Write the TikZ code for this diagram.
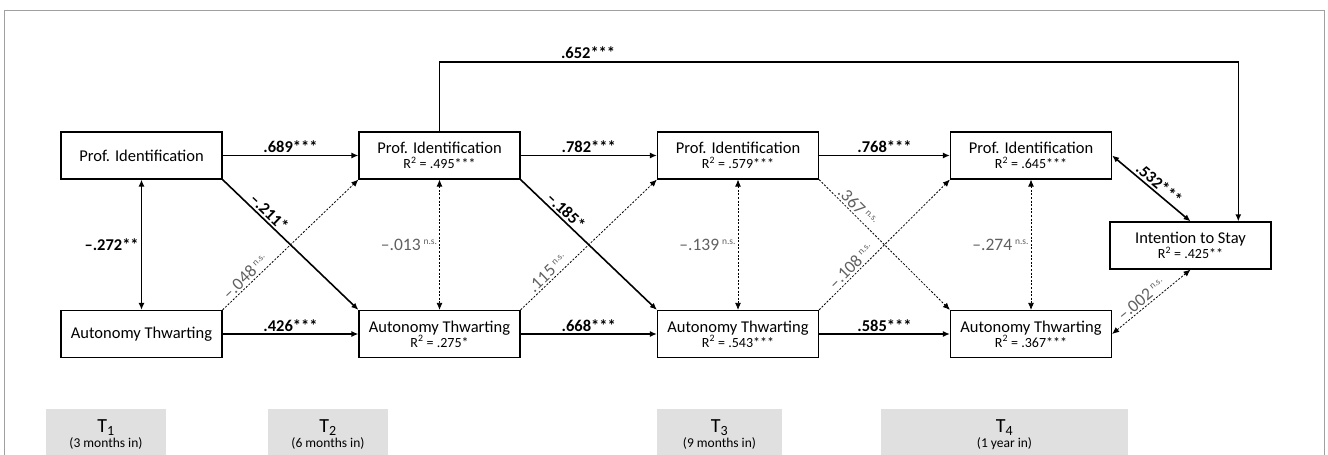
\documentclass[tikz,border=0pt]{standalone}
\usepackage{fontspec}
\setmainfont{Carlito}
\usetikzlibrary{arrows.meta}
\definecolor{lblgray}{RGB}{96,96,96}
\definecolor{framegray}{RGB}{160,160,160}
\definecolor{timefill}{RGB}{224,224,224}
\newcommand{\nsmark}{\raisebox{6pt}{\fontsize{9.5}{9.5}\selectfont n.s.}}
\newcommand{\rsq}[1]{{\fontsize{14}{15}\selectfont R\textsuperscript{2} = #1}}
\begin{document}
\begin{tikzpicture}[x=1pt,y=-1pt,
  >={Latex[length=7pt,width=6pt]},
  box/.style={draw, line width=1.2pt, minimum width=161pt, minimum height=47pt, inner sep=0pt, align=center, font=\fontsize{16.5}{17}\selectfont},
  solidarr/.style={line width=1.6pt, ->},
  dotarr/.style={line width=0.8pt, dash pattern=on 2pt off 1.6pt, ->},
  sig/.style={font=\fontsize{16.5}{17}\selectfont\bfseries, inner sep=2pt},
  nsl/.style={font=\fontsize{17.5}{18}\selectfont, text=lblgray, inner sep=2pt},
  timebox/.style={fill=timefill, minimum height=50pt, inner sep=0pt, align=center, anchor=north},
]
\useasboundingbox (0,0) rectangle (1328,455);
% frame
\draw[framegray, line width=1pt] (4,460) -- (4,10) -- (1324,10) -- (1324,460);

% boxes
\node[box] (p1) at (141.5,155.5) {Prof. Identification};
\node[box] (a1) at (141.5,334) {Autonomy Thwarting};
\node[box] (p2) at (439.5,155.5) {Prof. Identification\\[-2pt]\rsq{.495***}};
\node[box] (a2) at (439.5,334) {Autonomy Thwarting\\[-2pt]\rsq{.275*}};
\node[box] (p3) at (738,155.5) {Prof. Identification\\[-2pt]\rsq{.579***}};
\node[box] (a3) at (738,334) {Autonomy Thwarting\\[-2pt]\rsq{.543***}};
\node[box] (p4) at (1031,155.5) {Prof. Identification\\[-2pt]\rsq{.645***}};
\node[box] (a4) at (1031,334) {Autonomy Thwarting\\[-2pt]\rsq{.367***}};
\node[box] (its) at (1190.5,245.5) {Intention to Stay\\[-2pt]\rsq{.425**}};

% horizontal paths
\draw[solidarr] (p1) -- (p2) node[midway, above, sig] {.689***};
\draw[solidarr] (p2) -- (p3) node[midway, above, sig] {.782***};
\draw[solidarr] (p3) -- (p4) node[midway, above, sig] {.768***};
\draw[solidarr] (a1) -- (a2) node[midway, above, sig] {.426***};
\draw[solidarr] (a2) -- (a3) node[midway, above, sig] {.668***};
\draw[solidarr] (a3) -- (a4) node[midway, above, sig] {.585***};

% vertical correlations
\draw[solidarr, <->] (p1) -- (a1) node[midway, left, sig] {–.272**};
\draw[dotarr, <->] (p2) -- (a2) node[midway, left, nsl] {–.013\,\nsmark};
\draw[dotarr, <->] (p3) -- (a3) node[midway, left, nsl] {–.139\,\nsmark};
\draw[dotarr, <->] (p4) -- (a4) node[midway, left, nsl] {–.274\,\nsmark};

% cross-lagged
\draw[solidarr] (p1.south east) -- (a2.north west) node[sloped, pos=0.3, above, sig] {–.211*};
\draw[dotarr] (a1.north east) -- (p2.south west) node[sloped, pos=0.21, above, nsl] {–.048\,\nsmark};
\draw[solidarr] (p2.south east) -- (a3.north west) node[sloped, pos=0.29, above, sig] {–.185*};
\draw[dotarr] (a2.north east) -- (p3.south west) node[sloped, pos=0.24, above, nsl] {.115\,\nsmark};
\draw[dotarr] (p3.south east) -- (a4.north west) node[sloped, pos=0.25, above, nsl] {.367\,\nsmark};
\draw[dotarr] (a3.north east) -- (p4.south west) node[sloped, pos=0.29, above, nsl] {–.108\,\nsmark};

% outcome
\coordinate (topr) at (1238.3,61.7);
\draw[solidarr] (p2.north) |- (topr) node[pos=0.593, above, sig] {.652***} -- (topr |- its.north);
\draw[solidarr, <->] (p4.east) -- (its.north) node[sloped, pos=0.53, above, sig] {.532***};
\draw[dotarr, <->] (a4.east) -- (its.south) node[sloped, pos=0.44, above, nsl] {–.002\,\nsmark};

% time boxes
\node[timebox, minimum width=120pt] (t1) at (106,409) {{\fontsize{20}{20}\selectfont T\textsubscript{1}}\\[1pt]{\fontsize{13.5}{14}\selectfont (3 months in)}};
\node[timebox, minimum width=120pt] (t2) at (328,409) {{\fontsize{20}{20}\selectfont T\textsubscript{2}}\\[1pt]{\fontsize{13.5}{14}\selectfont (6 months in)}};
\node[timebox, minimum width=125pt] (t3) at (719.5,409) {{\fontsize{20}{20}\selectfont T\textsubscript{3}}\\[1pt]{\fontsize{13.5}{14}\selectfont (9 months in)}};
\node[timebox, minimum width=247pt] (t4) at (1004.5,409) {{\fontsize{20}{20}\selectfont T\textsubscript{4}}\\[1pt]{\fontsize{13.5}{14}\selectfont (1 year in)}};
\end{tikzpicture}
\end{document}
